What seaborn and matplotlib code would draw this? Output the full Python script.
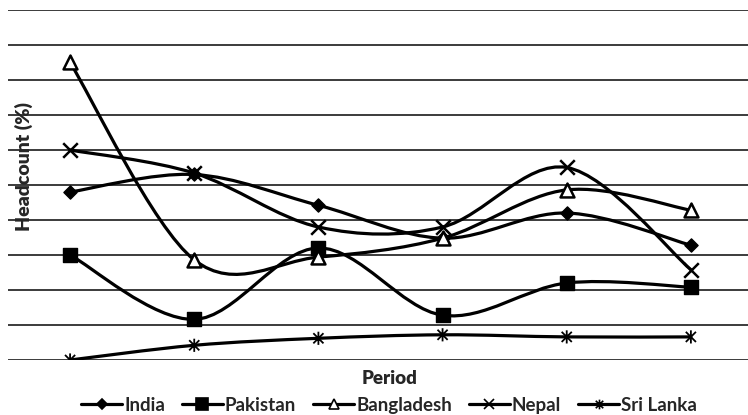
import numpy as np
import pandas as pd
import matplotlib
matplotlib.use("Agg")
import matplotlib.pyplot as plt
import seaborn as sns
from matplotlib.path import Path
from matplotlib.patches import PathPatch
from matplotlib.lines import Line2D

# ---- data (gridlines every 5 units) ----
periods = ["P1", "P2", "P3", "P4", "P5", "P6"]
india = [24.0, 26.5, 22.1, 17.4, 21.0, 16.4]
pakistan = [15.0, 5.8, 16.0, 6.4, 11.0, 10.4]
bangladesh = [42.5, 14.3, 14.7, 17.4, 24.3, 21.4]
nepal = [30.0, 26.7, 19.0, 19.0, 27.5, 12.9]
sri_lanka = [0.0, 2.1, 3.1, 3.6, 3.3, 3.3]
series_names = ["India", "Pakistan", "Bangladesh", "Nepal", "Sri Lanka"]
y_ticks = list(range(0, 55, 5))

sns.set_theme(style="white")
plt.rcParams["font.family"] = ["Lato", "DejaVu Sans"]

fig = plt.figure(figsize=(7.48, 4.15), dpi=100)
ax = fig.add_axes([8 / 748, 55 / 415, 740 / 748, 350 / 415])

star = Path([(-1, -1), (1, 1), (-1, 1), (1, -1), (0, -1.3), (0, 1.3)],
            [Path.MOVETO, Path.LINETO, Path.MOVETO, Path.LINETO, Path.MOVETO, Path.LINETO])

styles = {
    "India": dict(marker="D", s=45, facecolor="black", edgecolor="black", lw=1.0),
    "Pakistan": dict(marker="s", s=110, facecolor="black", edgecolor="black", lw=1.0),
    "Bangladesh": dict(marker="^", s=100, facecolor="white", edgecolor="black", lw=1.8),
    "Nepal": dict(marker="x", s=110, facecolor="black", edgecolor="black", lw=1.8),
    "Sri Lanka": dict(marker=star, s=90, facecolor="none", edgecolor="black", lw=1.3),
}
data = dict(zip(series_names, [india, pakistan, bangladesh, nepal, sri_lanka]))
df = pd.DataFrame({"Period": np.tile(periods, len(series_names)),
                   "Country": np.repeat(series_names, len(periods)),
                   "Headcount": np.concatenate([data[n] for n in series_names])})


def smooth_path(xs, ys):
    pts = np.column_stack([xs, ys]).astype(float)
    n = len(pts)
    verts = [pts[0]]
    codes = [Path.MOVETO]
    for i in range(n - 1):
        p0 = pts[i - 1] if i > 0 else pts[i]
        p1 = pts[i]
        p2 = pts[i + 1]
        p3 = pts[i + 2] if i + 2 < n else pts[i + 1]
        c1 = p1 + (p2 - p0) / 6.0
        c2 = p2 - (p3 - p1) / 6.0
        verts += [c1, c2, p2]
        codes += [Path.CURVE4] * 3
    return Path(verts, codes)


xpos = np.arange(len(periods))
for name in series_names:
    ys = data[name]
    patch = PathPatch(smooth_path(xpos, ys), facecolor="none", edgecolor="black",
                      lw=2.3, transform=ax.transData, zorder=3, capstyle="round")
    ax.add_patch(patch)

for name in series_names:
    st = styles[name]
    sub = df[df["Country"] == name].copy()
    sub["x"] = [periods.index(p) for p in sub["Period"]]
    kw = dict(marker=st["marker"], s=st["s"], linewidth=st["lw"], zorder=4, legend=False)
    if st["marker"] == "x":
        sns.scatterplot(data=sub, x="x", y="Headcount", color="black", ax=ax, **kw)
    else:
        sns.scatterplot(data=sub, x="x", y="Headcount", facecolor=st["facecolor"],
                        edgecolor=st["edgecolor"], ax=ax, **kw)

ax.set_xlim(-0.5, 5.46)
ax.set_ylim(0, 50)
ax.set_yticks(y_ticks)
ax.set_xticks(xpos)
ax.set_xticklabels([])
ax.set_yticklabels([])
ax.tick_params(length=0)
ax.grid(axis="y", color="#1a1a1a", lw=1.2)
ax.grid(axis="x", visible=False)
for sp in ax.spines.values():
    sp.set_visible(False)
ax.set_xlabel("")
ax.set_ylabel("")

fig.text(390 / 748, 1 - 378 / 415, "Period", ha="center", va="center",
         fontsize=13.5, fontweight="heavy")
fig.text(24 / 748, 1 - 166 / 415, "Headcount (%)", ha="center", va="center",
         rotation=90, fontsize=14, fontweight="heavy")

legend_ms = {"India": 5, "Pakistan": 8, "Bangladesh": 7, "Nepal": 7, "Sri Lanka": 7}
handles = []
for name in series_names:
    st = styles[name]
    mfc = "black" if st["marker"] == "x" or st["marker"] is star else st["facecolor"]
    handles.append(Line2D([0], [0], color="black", lw=2.3, marker=st["marker"],
                          markersize=legend_ms[name], markerfacecolor=mfc,
                          markeredgecolor="black", markeredgewidth=1.2))
fig.legend(handles, series_names, loc="center", bbox_to_anchor=(389 / 748, 1 - 405 / 415),
           ncol=5, frameon=False, handlelength=2.2, handletextpad=0.1,
           columnspacing=0.9, prop={"weight": "bold", "size": 13.5})

fig.savefig("out.png", dpi=100)
